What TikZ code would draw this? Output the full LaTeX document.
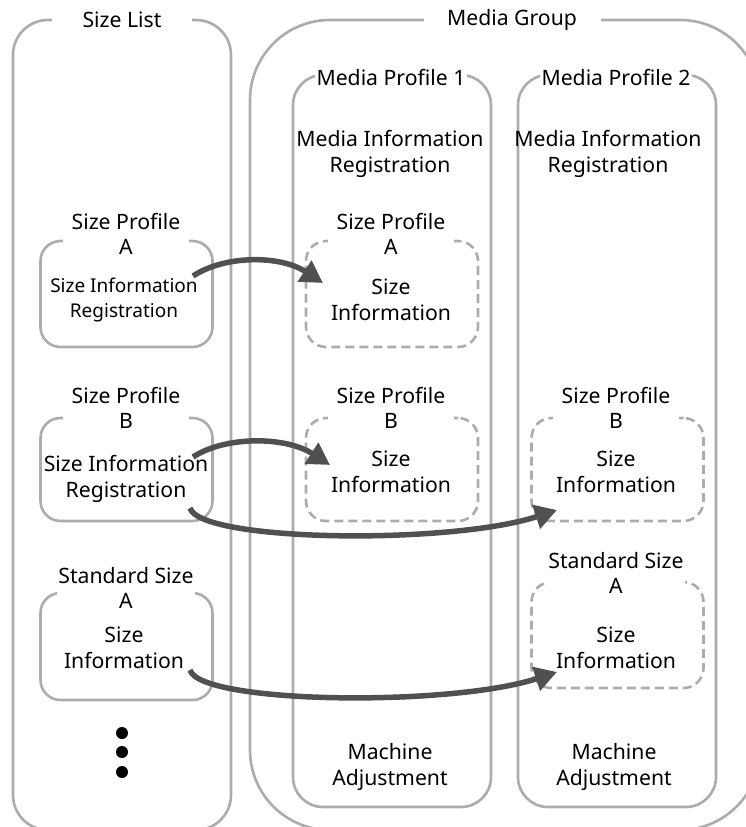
\documentclass[tikz,border=0pt]{standalone}
\usepackage{fontspec}
\setmainfont{Noto Sans}
\usetikzlibrary{arrows.meta, positioning}
\definecolor{linegray}{RGB}{172,172,172}
\definecolor{arrowgray}{RGB}{80,80,80}

\begin{document}
\begin{tikzpicture}[x=1pt,y=-1pt,
  grp/.style={rectangle,draw=linegray,line width=2.6pt,inner sep=0pt},
  solidbox/.style={rectangle,draw=linegray,line width=2.6pt,rounded corners=20pt,inner sep=0pt, minimum width=172pt},
  dashbox/.style={solidbox, dash pattern=on 9pt off 5pt},
  ttl/.style={fill=white,inner sep=2pt,align=center},
  lbl/.style={fill=white,inner sep=1pt,align=center,minimum width=126pt},
  txt/.style={align=center,inner sep=0pt},
  flow/.style={-{Triangle[length=22pt,width=24pt]},line width=5.5pt,arrowgray},
  font=\fontsize{21.2pt}{25.5pt}\selectfont
]
  \useasboundingbox (0,0) rectangle (746,827);
  % outer groups
  \node[grp,rounded corners=35pt,minimum width=218pt,minimum height=810pt] (sizelist) at (122,425) {};
  \node[grp,rounded corners=80pt,minimum width=510pt,minimum height=810pt] (mediagroup) at (505,425) {};
  \node[grp,rounded corners=30pt,minimum width=198pt,minimum height=732pt] (prof1) at (392,441) {};
  \node[grp,rounded corners=30pt,minimum width=198pt,minimum height=732pt] (prof2) at (617,441) {};
  \node[ttl,minimum width=140pt] (sizelistT) at (122,20) {Size List};
  \node[ttl,minimum width=177pt] (mediagroupT) at (512,20) {Media Group};
  \node[ttl,minimum width=151pt] (prof1T) at (391,77) {Media Profile 1};
  \node[ttl,minimum width=151pt] (prof2T) at (616,77) {Media Profile 2};
  \node[txt] (reg1) at (390,154) {Media Information\\Registration};
  \node[txt] (reg2) at (608,154) {Media Information\\Registration};
  % size list entries
  \node[solidbox,minimum height=106pt] (listA) at (126.5,294) {};
  \node[solidbox,minimum height=103pt] (listB) at (126.5,469.5) {};
  \node[solidbox,minimum height=107pt] (listS) at (126.5,646.5) {};
  \node[lbl] (listAT) at (126,234) {Size Profile\\A};
  \node[lbl] (listBT) at (126,408) {Size Profile\\B};
  \node[lbl] (listST) at (126,588) {Standard Size\\A};
  \node[txt,font=\fontsize{19pt}{25pt}\selectfont] (listAI) at (124,300) {Size Information\\Registration};
  \node[txt] (listBI) at (126,479) {Size Information\\Registration};
  \node[txt] (listSI) at (124,648) {Size\\Information};
  \foreach \yy in {733,752,772}
    \fill (122,\yy) circle (6pt);
  % media profile 1
  \node[dashbox,minimum height=106pt] (p1A) at (392,294) {};
  \node[dashbox,minimum height=103pt] (p1B) at (392,469.5) {};
  \node[lbl] (p1AT) at (391,234) {Size Profile\\A};
  \node[lbl] (p1BT) at (391,408) {Size Profile\\B};
  \node[txt] (p1AI) at (391,300) {Size\\Information};
  \node[txt] (p1BI) at (391,472) {Size\\Information};
  \node[txt] (adj1) at (390,767) {Machine\\Adjustment};
  % media profile 2
  \node[dashbox,minimum height=103pt] (p2B) at (617.5,469.5) {};
  \node[dashbox,minimum height=106pt] (p2S) at (617.5,635) {};
  \node[lbl] (p2BT) at (616,408) {Size Profile\\B};
  \node[lbl] (p2ST) at (616,573) {Standard Size\\A};
  \node[txt] (p2BI) at (616,472) {Size\\Information};
  \node[txt] (p2SI) at (616,648) {Size\\Information};
  \node[txt] (adj2) at (614,767) {Machine\\Adjustment};
  % arrows
  \coordinate (fromA) at (193,276);
  \coordinate (toA) at (323,283);
  \coordinate (fromB) at (193,457);
  \coordinate (toB1) at (330,465);
  \coordinate (fromB2) at (190,508);
  \coordinate (toB2) at (557,510);
  \coordinate (fromS) at (190,670);
  \coordinate (toS) at (557,672);
  \draw[flow] (fromA) .. controls (225,255) and (280,255) .. (toA);
  \draw[flow] (fromB) .. controls (225,436) and (285,436) .. (toB1);
  \draw[flow] (fromB2) .. controls (200,542) and (450,545) .. (toB2);
  \draw[flow] (fromS) .. controls (200,704) and (450,707) .. (toS);
\end{tikzpicture}
\end{document}
